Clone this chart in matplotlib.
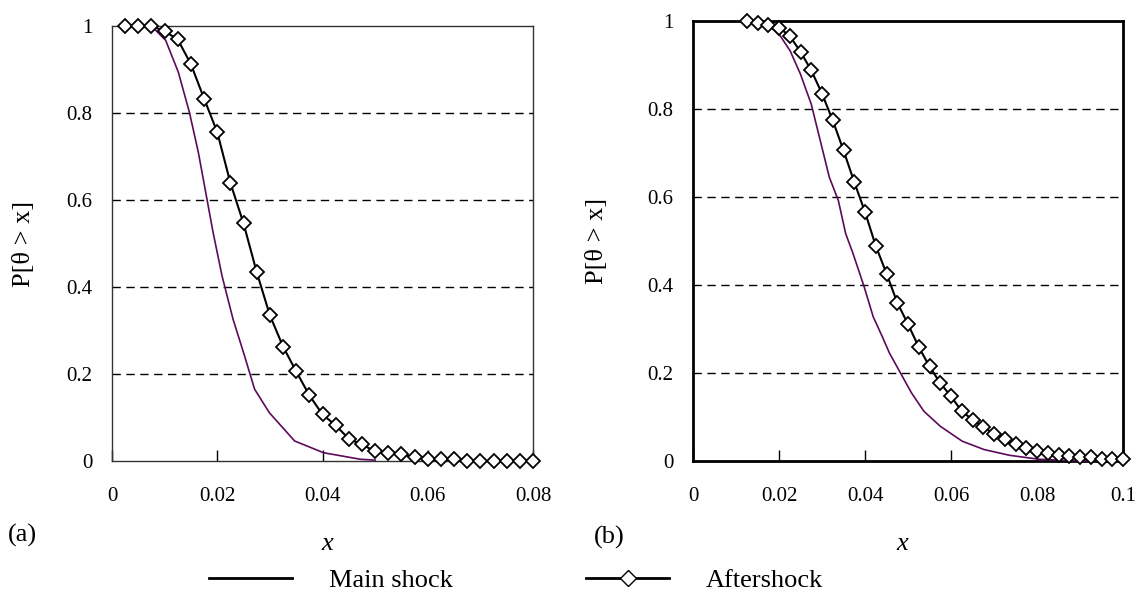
import matplotlib
matplotlib.use("Agg")
import matplotlib.pyplot as plt
from matplotlib.lines import Line2D
import numpy as np

# (a) aftershock markers and main shock curve
a_after_x = [0.0025, 0.005, 0.0075, 0.01, 0.0125, 0.015, 0.0175, 0.02, 0.0225, 0.025,
             0.0275, 0.03, 0.0325, 0.035, 0.0375, 0.04, 0.0425, 0.045, 0.0475, 0.05,
             0.0525, 0.055, 0.0575, 0.06, 0.0625, 0.065, 0.0675, 0.07, 0.0725, 0.075,
             0.0775, 0.08]
a_after_y = [1.0, 1.0, 1.0, 0.988, 0.969, 0.912, 0.833, 0.756, 0.639, 0.546,
             0.434, 0.335, 0.263, 0.206, 0.151, 0.107, 0.082, 0.051, 0.038, 0.022,
             0.019, 0.015, 0.009, 0.005, 0.004, 0.004, 0.0, 0.0, 0.0, 0.0,
             0.0, 0.0]
a_main_x = [0.0075, 0.0102, 0.0126, 0.0147, 0.0164, 0.0178, 0.0192, 0.0209, 0.023,
            0.025, 0.0271, 0.0299, 0.0347, 0.0402, 0.0472, 0.05]
a_main_y = [1.0, 0.967, 0.894, 0.802, 0.71, 0.618, 0.526, 0.426, 0.326,
            0.249, 0.165, 0.111, 0.046, 0.019, 0.004, 0.002]

# (b)
b_after_x = [0.0125, 0.015, 0.0175, 0.02, 0.0225, 0.025, 0.0275, 0.03, 0.0325, 0.035,
             0.0375, 0.04, 0.0425, 0.045, 0.0475, 0.05, 0.0525, 0.055, 0.0575, 0.06,
             0.0625, 0.065, 0.0675, 0.07, 0.0725, 0.075, 0.0775, 0.08, 0.0825, 0.085,
             0.0875, 0.09, 0.0925, 0.095, 0.0975, 0.1]
b_after_y = [1.0, 0.996, 0.992, 0.985, 0.966, 0.93, 0.888, 0.835, 0.774, 0.706,
             0.634, 0.566, 0.489, 0.426, 0.36, 0.311, 0.259, 0.215, 0.177, 0.147,
             0.113, 0.094, 0.077, 0.062, 0.049, 0.038, 0.03, 0.023, 0.019, 0.014,
             0.011, 0.009, 0.008, 0.005, 0.005, 0.004]
b_main_x = [0.0124, 0.0178, 0.0203, 0.0226, 0.025, 0.0275, 0.0296, 0.0317, 0.0338,
            0.0355, 0.0372, 0.0398, 0.0419, 0.044, 0.0457, 0.0478, 0.0508, 0.0537,
            0.0575, 0.0626, 0.0677, 0.0736, 0.0804, 0.0897, 0.1]
b_main_y = [1.0, 0.989, 0.966, 0.932, 0.879, 0.811, 0.728, 0.645, 0.592,
            0.517, 0.472, 0.396, 0.328, 0.283, 0.245, 0.208, 0.155, 0.113,
            0.079, 0.045, 0.026, 0.013, 0.004, 0.0, 0.0]

y_ticks = [0, 0.2, 0.4, 0.6, 0.8, 1]
y_labels = ["0", "0.2", "0.4", "0.6", "0.8", "1"]
a_xticks = [0, 0.02, 0.04, 0.06, 0.08]
a_xlabels = ["0", "0.02", "0.04", "0.06", "0.08"]
b_xticks = [0, 0.02, 0.04, 0.06, 0.08, 0.1]
b_xlabels = ["0", "0.02", "0.04", "0.06", "0.08", "0.1"]

serif = "Liberation Serif"
main_color = "#5c0a5c"

fig = plt.figure(figsize=(11.4, 5.91), dpi=100)
ax_a = fig.add_axes((112 / 1140, 1 - 461 / 591, 421 / 1140, 435 / 591))
ax_b = fig.add_axes((693 / 1140, 1 - 461 / 591, 430 / 1140, 440 / 591))


def style(ax, xt, xl, xmax, spine_w, spine_c):
    ax.set_xlim(0, xmax)
    ax.set_ylim(0, 1)
    ax.set_xticks(xt)
    ax.set_xticklabels(xl, family=serif, fontsize=15)
    ax.set_yticks(y_ticks)
    ax.set_yticklabels(y_labels, family=serif, fontsize=15)
    ax.tick_params(axis="x", direction="in", length=8, pad=19, width=1)
    ax.tick_params(axis="y", length=0, pad=14)
    for y in y_ticks[1:-1]:
        ax.axhline(y, color="black", lw=1, ls=(0, (6, 4)), zorder=1)
    for s in ax.spines.values():
        s.set_linewidth(spine_w)
        s.set_color(spine_c)
    ax.set_ylabel("P[θ > x]", family=serif, fontsize=19)
    ax.set_xlabel("x", family=serif, style="italic", fontsize=19)


style(ax_a, a_xticks, a_xlabels, 0.08, 1.0, "#333333")
style(ax_b, b_xticks, b_xlabels, 0.1, 2.0, "black")
ax_a.yaxis.set_label_coords(-0.183, 0.5)
ax_b.yaxis.set_label_coords(-0.198, 0.5)
ax_a.xaxis.set_label_coords(0.511, -0.166)
ax_b.xaxis.set_label_coords(0.486, -0.164)

for ax, mx, my, ax_x, ax_y in [(ax_a, a_main_x, a_main_y, a_after_x, a_after_y),
                               (ax_b, b_main_x, b_main_y, b_after_x, b_after_y)]:
    ax.plot(mx, my, color=main_color, lw=1.2, zorder=3, clip_on=False)
    ax.plot(ax_x, ax_y, color="black", lw=1.5, marker="D", markersize=7,
            markerfacecolor="white", markeredgecolor="black", markeredgewidth=1.3,
            zorder=4, clip_on=False)

fig.text(22 / 1140, 1 - 535 / 591, "(a)", family=serif, fontsize=19, ha="center", va="center")
fig.text(609 / 1140, 1 - 537 / 591, "(b)", family=serif, fontsize=19, ha="center", va="center")

handles = [Line2D([], [], color="black", lw=2),
           Line2D([], [], color="black", lw=2, marker="D", markersize=8,
                  markerfacecolor="white", markeredgecolor="black")]
fig.legend(handles, ["Main shock", "Aftershock"], loc="center",
           bbox_to_anchor=(516 / 1140, 1 - 580 / 591), ncol=2, frameon=False,
           prop={"family": serif, "size": 19}, handlelength=3.15,
           handletextpad=1.4, columnspacing=5.05, borderpad=0)

fig.savefig("out.png", dpi=100)
